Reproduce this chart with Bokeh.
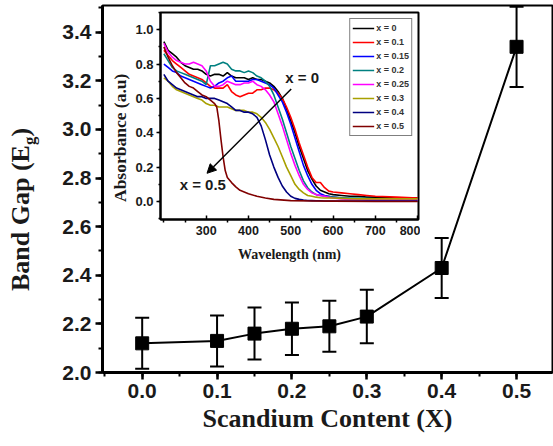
from bokeh.plotting import figure
from bokeh.models import (ColumnDataSource, Whisker, TeeHead, SingleIntervalTicker, FixedTicker,
                          NumeralTickFormatter, Label, Arrow, NormalHead, GridBox, Div)
from bokeh.embed import file_html
from bokeh.resources import INLINE

# ---------------- main data ----------------
scandium = [0.0, 0.1, 0.15, 0.2, 0.25, 0.3, 0.4, 0.5]
band_gap = [2.12, 2.13, 2.16, 2.18, 2.19, 2.23, 2.43, 3.34]
band_gap_err = [0.105, 0.105, 0.107, 0.108, 0.105, 0.11, 0.123, 0.165]

# ---------------- inset data ----------------
wavelength = [200, 210, 220, 230, 240, 250, 260, 270, 280, 290, 300, 310, 320, 330, 340, 350,
              360, 370, 380, 390, 400, 410, 420, 430, 440, 450, 460, 470, 480, 490, 500, 510,
              520, 530, 540, 550, 560, 570, 580, 590, 600, 620, 640, 660, 680, 700, 750, 800]
abs_x0 = [0.93, 0.88, 0.86, 0.84, 0.81, 0.79, 0.78, 0.77, 0.77, 0.76, 0.74, 0.73, 0.74, 0.74, 0.73, 0.75,
          0.73, 0.72, 0.72, 0.72, 0.71, 0.72, 0.71, 0.71, 0.70, 0.69, 0.67, 0.64, 0.60, 0.54, 0.47, 0.40,
          0.32, 0.25, 0.18, 0.13, 0.09, 0.065, 0.055, 0.045, 0.04, 0.035, 0.03, 0.03, 0.025, 0.025, 0.02, 0.02]
abs_x01 = [0.88, 0.85, 0.82, 0.80, 0.78, 0.76, 0.74, 0.73, 0.72, 0.71, 0.69, 0.67, 0.66, 0.66, 0.66, 0.68,
           0.64, 0.62, 0.61, 0.62, 0.63, 0.63, 0.65, 0.65, 0.66, 0.66, 0.65, 0.63, 0.60, 0.55, 0.49, 0.42,
           0.34, 0.27, 0.20, 0.14, 0.11, 0.11, 0.08, 0.06, 0.055, 0.05, 0.045, 0.04, 0.035, 0.03, 0.025, 0.02]
abs_x015 = [0.80, 0.78, 0.76, 0.75, 0.73, 0.72, 0.71, 0.70, 0.69, 0.68, 0.67, 0.66, 0.67, 0.69, 0.70, 0.72,
            0.73, 0.70, 0.70, 0.70, 0.70, 0.71, 0.71, 0.70, 0.69, 0.68, 0.66, 0.62, 0.58, 0.52, 0.45, 0.37,
            0.29, 0.21, 0.15, 0.10, 0.065, 0.045, 0.035, 0.03, 0.025, 0.02, 0.015, 0.015, 0.01, 0.01, 0.01, 0.01]
abs_x02 = [0.86, 0.82, 0.78, 0.76, 0.75, 0.74, 0.73, 0.72, 0.71, 0.70, 0.68, 0.79, 0.79, 0.80, 0.81, 0.80,
           0.77, 0.76, 0.76, 0.75, 0.76, 0.75, 0.73, 0.72, 0.70, 0.67, 0.62, 0.55, 0.48, 0.40, 0.32, 0.25,
           0.18, 0.12, 0.08, 0.055, 0.04, 0.035, 0.03, 0.028, 0.025, 0.022, 0.02, 0.02, 0.018, 0.016, 0.015, 0.015]
abs_x025 = [0.92, 0.87, 0.84, 0.82, 0.81, 0.80, 0.80, 0.81, 0.80, 0.79, 0.76, 0.70, 0.67, 0.67, 0.68, 0.70,
            0.69, 0.68, 0.68, 0.69, 0.69, 0.70, 0.68, 0.67, 0.65, 0.62, 0.58, 0.51, 0.44, 0.36, 0.28, 0.21,
            0.15, 0.10, 0.07, 0.05, 0.04, 0.035, 0.03, 0.025, 0.02, 0.015, 0.012, 0.01, 0.01, 0.01, 0.01, 0.01]
abs_x03 = [0.72, 0.70, 0.67, 0.65, 0.64, 0.63, 0.62, 0.61, 0.60, 0.59, 0.57, 0.56, 0.56, 0.55, 0.55, 0.55,
           0.54, 0.53, 0.53, 0.53, 0.52, 0.52, 0.51, 0.49, 0.46, 0.42, 0.37, 0.32, 0.26, 0.20, 0.15, 0.10,
           0.07, 0.05, 0.035, 0.03, 0.025, 0.022, 0.02, 0.02, 0.02, 0.018, 0.016, 0.015, 0.015, 0.015, 0.015, 0.015]
abs_x04 = [0.74, 0.70, 0.68, 0.66, 0.65, 0.64, 0.63, 0.62, 0.61, 0.61, 0.60, 0.60, 0.60, 0.59, 0.58, 0.57,
           0.55, 0.53, 0.53, 0.52, 0.52, 0.51, 0.49, 0.44, 0.36, 0.27, 0.20, 0.14, 0.09, 0.055, 0.03, 0.018,
           0.012, 0.008, 0.006, 0.005, 0.004, 0.004, 0.003, 0.003, 0.003, 0.003, 0.002, 0.002, 0.002, 0.002, 0.002, 0.002]
wavelength_x05 = [200, 210, 220, 230, 240, 250, 260, 270, 280, 290, 300, 310, 320, 325, 330, 335,
                  340, 345, 350, 360, 370, 380, 390, 400, 420, 440, 460, 500, 550, 600, 700, 800]
abs_x05 = [0.90, 0.84, 0.79, 0.75, 0.72, 0.69, 0.67, 0.66, 0.64, 0.62, 0.61, 0.59, 0.57, 0.55, 0.47, 0.36,
           0.26, 0.18, 0.14, 0.11, 0.085, 0.065, 0.055, 0.045, 0.03, 0.02, 0.012, 0.005, 0.003, 0.002, 0.0, 0.0]

series_labels = ["x = 0", "x = 0.1", "x = 0.15", "x = 0.2", "x = 0.25", "x = 0.3", "x = 0.4", "x = 0.5"]
series_colors = ["#000000", "#ff0000", "#0000ff", "#008080", "#ff00ff", "#a8a000", "#000080", "#800000"]
inset_xticks = [300, 400, 500, 600, 700, 800]
inset_xminor = [200, 250, 350, 450, 550, 650, 750]

SANS = "Liberation Sans"
SERIF = "Liberation Serif"
INK = "#1a1a1a"
W, H = 553, 446

# ---------------- main figure ----------------
main = figure(width=W, height=H, x_range=(-0.053, 0.548), y_range=(2.0, 3.51),
              output_backend="svg", toolbar_location=None,
              min_border_left=102, min_border_right=1, min_border_top=5, min_border_bottom=74)
main.background_fill_color = "white"
main.border_fill_color = "white"
main.outline_line_color = "black"
main.outline_line_width = 2
main.xgrid.visible = False
main.ygrid.visible = False

main.xaxis.ticker = SingleIntervalTicker(interval=0.1, num_minor_ticks=2)
main.yaxis.ticker = SingleIntervalTicker(interval=0.2, num_minor_ticks=2)
main.xaxis.formatter = NumeralTickFormatter(format="0.0")
main.yaxis.formatter = NumeralTickFormatter(format="0.0")
for ax in (main.xaxis[0], main.yaxis[0]):
    ax.axis_line_width = 3
    ax.axis_line_color = "black"
    ax.major_tick_line_width = 2.5
    ax.minor_tick_line_width = 2
    ax.major_tick_out = 7
    ax.major_tick_in = 0
    ax.minor_tick_out = 4
    ax.minor_tick_in = 0
    ax.major_label_text_font = SANS
    ax.major_label_text_font_style = "bold"
    ax.major_label_text_font_size = "21px"
    ax.major_label_text_color = INK
    ax.major_label_standoff = 4
main.xaxis.axis_label = "Scandium Content (X)"
main.xaxis.axis_label_text_font = SERIF
main.xaxis.axis_label_text_font_style = "bold"
main.xaxis.axis_label_text_font_size = "26px"
main.xaxis.axis_label_text_color = INK
main.xaxis.axis_label_standoff = 3

src = ColumnDataSource(dict(x=scandium, y=band_gap,
                            upper=[v + e for v, e in zip(band_gap, band_gap_err)],
                            lower=[v - e for v, e in zip(band_gap, band_gap_err)]))
main.add_layout(Whisker(source=src, base="x", upper="upper", lower="lower", line_width=2, line_color="black",
                        upper_head=TeeHead(size=14, line_width=2, line_color="black"),
                        lower_head=TeeHead(size=14, line_width=2, line_color="black")))
main.line("x", "y", source=src, line_width=2, line_color="black")
main.scatter("x", "y", source=src, marker="square", size=13, fill_color="black", line_color="black")

# ---------------- inset figure ----------------
inset = figure(width=306, height=262, x_range=(192, 802), y_range=(-0.105, 1.1),
               output_backend="svg", toolbar_location=None,
               min_border_left=46, min_border_right=2, min_border_top=6, min_border_bottom=49)
inset.background_fill_color = "white"
inset.border_fill_alpha = 0
inset.outline_line_color = "black"
inset.outline_line_width = 2
inset.xgrid.visible = False
inset.ygrid.visible = False

inset.xaxis.ticker = FixedTicker(ticks=inset_xticks, minor_ticks=inset_xminor)
inset.yaxis.ticker = SingleIntervalTicker(interval=0.2, num_minor_ticks=2)
inset.yaxis.formatter = NumeralTickFormatter(format="0.0")
for ax in (inset.xaxis[0], inset.yaxis[0]):
    ax.axis_line_width = 2
    ax.major_tick_line_width = 1.5
    ax.minor_tick_line_width = 1.5
    ax.major_label_text_font = SANS
    ax.major_label_text_font_style = "bold"
    ax.major_label_text_color = INK
    ax.major_label_standoff = 3
inset.xaxis.major_label_text_font_size = "12.5px"
inset.yaxis.major_label_text_font_size = "13px"
inset.xaxis.major_tick_in = 4
inset.xaxis.major_tick_out = 0
inset.xaxis.minor_tick_in = 0
inset.xaxis.minor_tick_out = 3
inset.yaxis.major_tick_in = 0
inset.yaxis.major_tick_out = 4
inset.yaxis.minor_tick_in = 0
inset.yaxis.minor_tick_out = 2
inset.xaxis.axis_label = "Wavelength (nm)"
inset.xaxis.axis_label_text_font = SERIF
inset.xaxis.axis_label_text_font_style = "bold"
inset.xaxis.axis_label_text_font_size = "14px"
inset.xaxis.axis_label_text_color = INK
inset.xaxis.axis_label_standoff = 9

series_x = [wavelength] * 7 + [wavelength_x05]
series_y = [abs_x0, abs_x01, abs_x015, abs_x02, abs_x025, abs_x03, abs_x04, abs_x05]
for xs, ys, lab, col in zip(series_x, series_y, series_labels, series_colors):
    inset.line(xs, ys, line_width=1.6, line_color=col, legend_label=lab)

lg = inset.legend[0]
lg.location = "top_right"
lg.margin = 6
lg.padding = 2
lg.spacing = 0
lg.glyph_width = 22
lg.glyph_height = 14
lg.label_height = 14
lg.label_standoff = 2
lg.label_text_font = SANS
lg.label_text_font_style = "bold"
lg.label_text_font_size = "9px"
lg.label_text_color = "#333333"
lg.border_line_color = "black"
lg.border_line_width = 1
lg.background_fill_color = "white"
lg.background_fill_alpha = 1

inset.add_layout(Arrow(x_start=501, y_start=0.655, x_end=302, y_end=0.164, line_width=1.5, line_color="black",
                       end=NormalHead(size=9, fill_color="black", line_color="black")))
inset.add_layout(Label(x=527, y=0.72, text="x = 0", text_font=SANS, text_font_style="bold",
                       text_font_size="15px", text_align="center", text_baseline="middle", text_color=INK))
inset.add_layout(Label(x=292, y=0.10, text="x = 0.5", text_font=SANS, text_font_style="bold",
                       text_font_size="15px", text_align="center", text_baseline="middle", text_color=INK))

# ---------------- rotated axis titles (HTML overlay, real text with a real subscript) ----------------
rot = ("position:absolute; margin:0; padding:0; white-space:nowrap; transform-origin:0 0; "
       "transform:rotate(-90deg); font-family:'Liberation Serif'; font-weight:bold; color:%s;" % INK)
titles_html = (
    '<div style="position:relative; width:420px; height:446px; margin:0; padding:0;">'
    '<div style="%s left:8px; top:291px; font-size:26px; line-height:26px;">'
    'Band Gap (E<span style="font-size:17px; position:relative; top:6px;">g</span>)</div>'
    '<div style="%s left:112px; top:202px; font-size:17.5px; line-height:17.5px;">Absorbance (a.u)</div>'
    '</div>' % (rot, rot)
)
titles = Div(text=titles_html, width=420, height=446, styles={"margin": "0", "padding": "0"})

# ---------------- overlay layout ----------------
p = GridBox(children=[(main, 0, 0, 3, 3), (inset, 1, 1, 1, 1), (titles, 0, 0, 3, 2)],
            rows=["6px", "262px", "178px"], cols=["114px", "306px", "133px"], spacing=0)

open("out.html", "w").write(file_html(p, INLINE))
